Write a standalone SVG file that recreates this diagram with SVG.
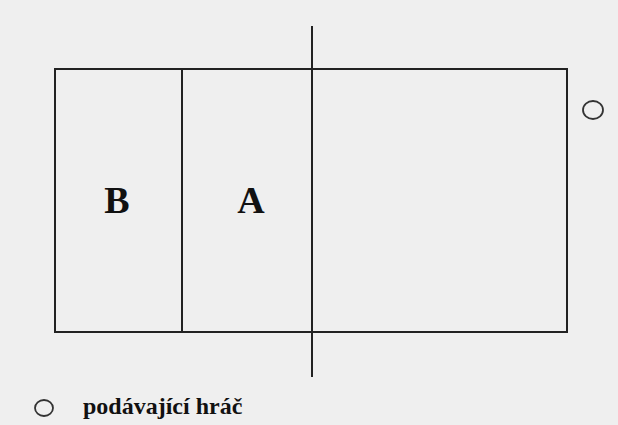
<svg xmlns="http://www.w3.org/2000/svg" width="618" height="425" viewBox="0 0 618 425">
<style>
.ln{stroke:#222;stroke-width:2;fill:none}
.lbl{font-family:"Liberation Serif",serif;font-weight:bold;fill:#111}
</style>
<rect width="618" height="425" fill="#efefef"/>
<g id="court">
<rect class="ln" x="55" y="69" width="512" height="263" fill="#f1f1f1"/>
<line class="ln" x1="182" y1="69" x2="182" y2="332"/>
</g>
<g id="net"><line class="ln" x1="312" y1="26" x2="312" y2="377"/></g>
<g id="zoneB"><text class="lbl" x="117" y="213" font-size="38" text-anchor="middle">B</text></g>
<g id="zoneA"><text class="lbl" x="251" y="213" font-size="38" text-anchor="middle">A</text></g>
<g id="server"><ellipse cx="593" cy="110" rx="10" ry="9" fill="none" stroke="#333" stroke-width="1.8"/></g>
<g id="legend">
<ellipse cx="44" cy="408" rx="9" ry="8" fill="none" stroke="#333" stroke-width="1.8"/>
<text class="lbl" x="83" y="414" font-size="24">podávající hráč</text>
</g>
</svg>
